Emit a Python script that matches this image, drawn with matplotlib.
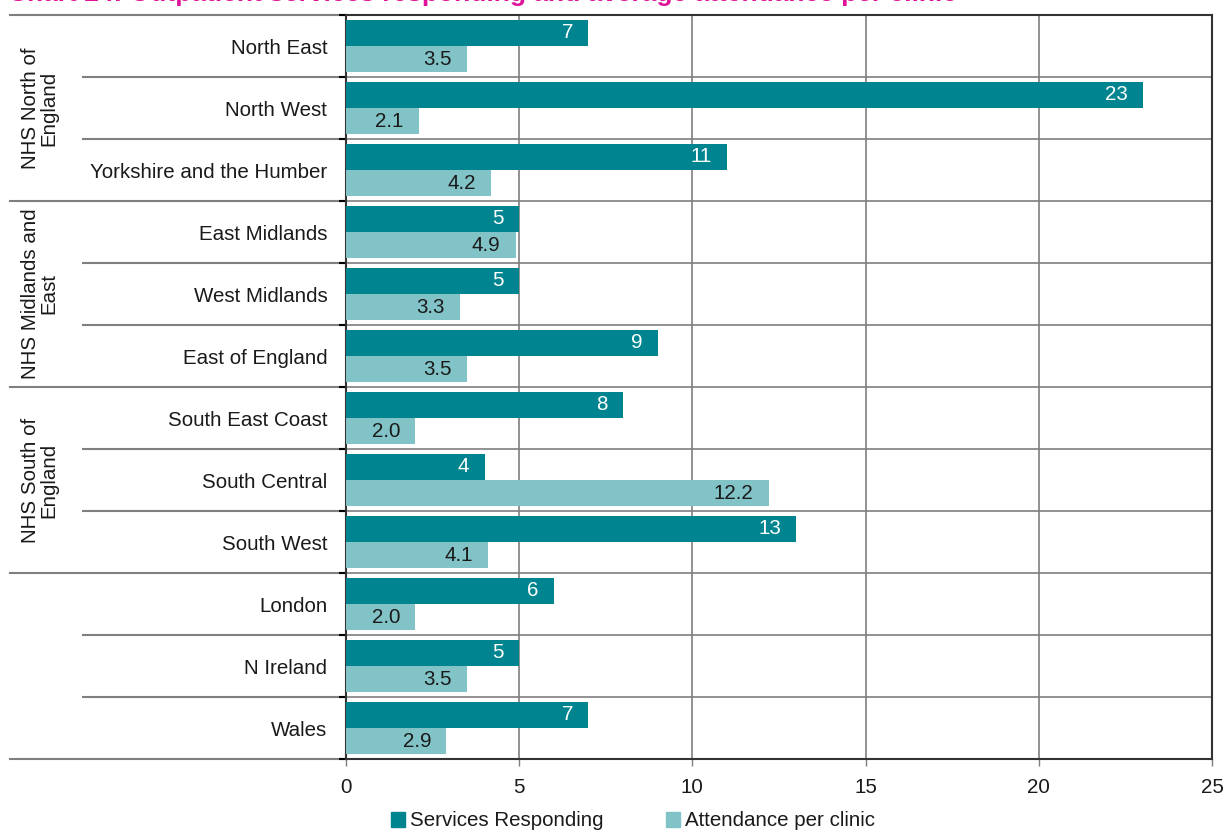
import matplotlib
matplotlib.use("Agg")
import matplotlib.pyplot as plt
from matplotlib.transforms import blended_transform_factory
from matplotlib.patches import Patch

plt.rcParams['font.family'] = ['Liberation Sans', 'DejaVu Sans']

categories = ["North East", "North West", "Yorkshire and the Humber",
              "East Midlands", "West Midlands", "East of England",
              "South East Coast", "South Central", "South West",
              "London", "N Ireland", "Wales"]
services = [7, 23, 11, 5, 5, 9, 8, 4, 13, 6, 5, 7]
attendance = [3.5, 2.1, 4.2, 4.9, 3.3, 3.5, 2.0, 12.2, 4.1, 2.0, 3.5, 2.9]
att_labels = ["3.5", "2.1", "4.2", "4.9", "3.3", "3.5", "2.0", "12.2", "4.1", "2.0", "3.5", "2.9"]
groups = ["NHS North of\nEngland", "NHS Midlands and\nEast", "NHS South of\nEngland", ""]
group_size = 3
xticks = [0, 5, 10, 15, 20, 25]
title = "Chart 24: Outpatient services responding and average attendance per clinic"

dark = "#00848F"
light = "#82C3C7"
grid_c = "#7f7f7f"
axis_c = "#333333"
text_c = "#1a1a1a"
fs = 14.8

W, H = 1226, 832
fig = plt.figure(figsize=(W / 100, H / 100), dpi=100)
ax = fig.add_axes([346 / W, 1 - 759 / H, (1212 - 346) / W, (759 - 15) / H])

n = len(categories)
ys = list(range(n))
bh = 0.42
off = 0.215
ax.barh([y - off for y in ys], services, height=bh, color=dark, zorder=3)
ax.barh([y + off for y in ys], attendance, height=bh, color=light, zorder=3)

for y, v in zip(ys, services):
    ax.annotate(str(v), (v, y - off), xytext=(-11, 0), textcoords="offset points",
                ha="right", va="center", color="white", fontsize=fs, zorder=4)
for y, v, s in zip(ys, attendance, att_labels):
    ax.annotate(s, (v, y + off), xytext=(-11, 0), textcoords="offset points",
                ha="right", va="center", color=text_c, fontsize=fs, zorder=4)

ax.set_xlim(0, 25)
ax.set_ylim(n - 0.5, -0.5)
ax.set_xticks(xticks)
ax.set_xticklabels([str(t) for t in xticks], fontsize=fs, color=text_c)
ax.tick_params(axis="x", length=5, width=1, color=grid_c, pad=9)

ax.set_yticks(ys)
ax.set_yticklabels(categories, fontsize=fs, color=text_c)
ax.tick_params(axis="y", length=0, pad=13.5)
ax.set_yticks([y + 0.5 for y in range(-1, n)], minor=True)
ax.tick_params(axis="y", which="minor", length=5, width=1.5, color="black")

for x in xticks[1:-1]:
    ax.axvline(x, color=grid_c, lw=1.2, zorder=1)
for b in range(n - 1):
    ax.axhline(b + 0.5, color=grid_c, lw=1.2, zorder=1)

for sp in ax.spines.values():
    sp.set_color(axis_c)
    sp.set_linewidth(1.5)

# separators in label area
tr = blended_transform_factory(ax.transAxes, ax.transData)
x_inner = (83 - 346) / (1212 - 346)
x_outer = (10 - 346) / (1212 - 346)
for b in range(-1, n):
    yb = b + 0.5
    is_group = (b + 1) % group_size == 0
    x0 = x_outer if is_group else x_inner
    ax.plot([x0, 0], [yb, yb], transform=tr, color=grid_c, lw=1.5, clip_on=False, zorder=0)

x_group = (40 - 346) / (1212 - 346)
for g, name in enumerate(groups):
    if name:
        yc = g * group_size + (group_size - 1) / 2
        ax.text(x_group, yc, name, transform=tr, rotation=90, ha="center", va="center",
                fontsize=fs, color=text_c, multialignment="center", linespacing=0.95)

handles = [Patch(color=dark, label="Services Responding"),
           Patch(color=light, label="Attendance per clinic")]
fig.legend(handles=handles, loc="center", bbox_to_anchor=(633 / W, 1 - 821 / H),
           ncol=2, frameon=False, fontsize=fs, handlelength=0.7, handleheight=0.7,
           handletextpad=0.25, columnspacing=3.0, labelcolor=text_c)

fig.text(8 / W, 1 - 1 / H, title, fontsize=19, fontweight="bold", color="#E0129A",
         ha="left", va="baseline")

fig.savefig("out.png", dpi=100)
